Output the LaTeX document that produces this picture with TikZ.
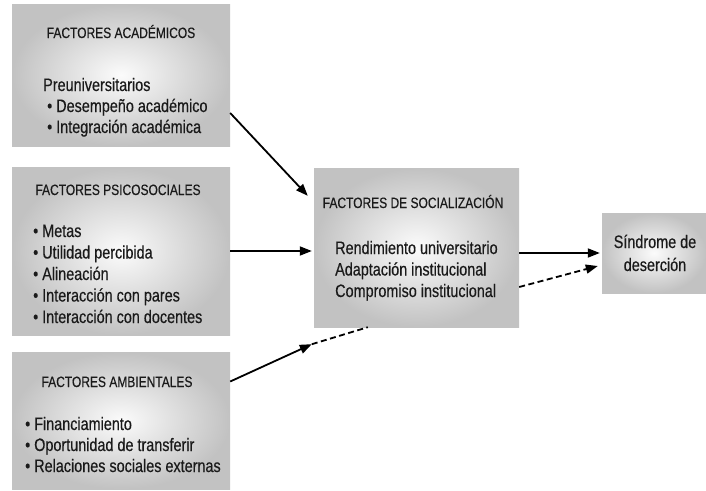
\documentclass[tikz,border=0pt]{standalone}
\usepackage{fontspec}
\setmainfont{Liberation Sans}[FakeStretch=0.8, FakeBold=0.4]
\usetikzlibrary{arrows.meta,positioning}
\definecolor{boxtext}{HTML}{1A1A1A}

\tikzset{
  factorbox/.style={inner sep=0pt, inner color=gray!3, outer color=gray!48},
  boxtitle/.style={font={\fontsize{15}{17}\selectfont}, text=boxtext, inner sep=0pt, anchor=base},
  boxitem/.style={font={\fontsize{18}{21}\selectfont}, text=boxtext, inner sep=0pt, anchor=base west},
  arr/.style={-{Triangle[length=12pt,width=9pt]}, line width=1.8pt},
  dasharr/.style={arr, dash pattern=on 6pt off 3.5pt},
}

\begin{document}
\begin{tikzpicture}[x=1pt, y=-1pt]
  \useasboundingbox (0,0) rectangle (706,490);
  % cajas
  \node[factorbox, minimum width=218pt, minimum height=142pt] (acad) at (121,75) {};
  \node[factorbox, minimum width=218pt, minimum height=168pt] (psico) at (121,251) {};
  \node[factorbox, minimum width=218pt, minimum height=137pt] (amb) at (121,420.5) {};
  \node[factorbox, minimum width=205pt, minimum height=159pt] (soc) at (416.5,247.5) {};
  \node[factorbox, minimum width=104pt, minimum height=80pt] (sind) at (654,253) {};

  % factores academicos
  \node[boxtitle] (acadtitle) at (121,38) {FACTORES ACADÉMICOS};
  \node[boxitem] (acadpre) at (43,91) {Preuniversitarios};
  \foreach \t [count=\i] in {Desempeño académico, Integración académica}
    \node[boxitem] (acad\i) at (47,91+21*\i) {\textbullet\ \t};

  % factores psicosociales
  \node[boxtitle] (psicotitle) at (118,195) {FACTORES PSICOSOCIALES};
  \foreach \t [count=\i] in {Metas, Utilidad percibida, Alineación, Interacción con pares, Interacción con docentes}
    \node[boxitem] (psico\i) at (33,237+21.5*\i-21.5) {\textbullet\ \t};

  % factores ambientales
  \node[boxtitle] (ambtitle) at (117,387) {FACTORES AMBIENTALES};
  \foreach \t [count=\i] in {Financiamiento, Oportunidad de transferir, Relaciones sociales externas}
    \node[boxitem] (amb\i) at (25,430+21*\i-21) {\textbullet\ \t};

  % factores de socializacion
  \node[boxtitle] (soctitle) at (413,208) {FACTORES DE SOCIALIZACIÓN};
  \foreach \t [count=\i] in {Rendimiento universitario, Adaptación institucional, Compromiso institucional}
    \node[boxitem] (soc\i) at (335,254+21.5*\i-21.5) {\t};

  % sindrome
  \node[boxitem, anchor=base] (sind1) at (655,248) {Síndrome de};
  \node[boxitem, anchor=base] (sind2) at (655,271) {deserción};

  % flechas
  \coordinate (ambtip) at ([xshift=-2pt,yshift=-17pt]soc.south west);
  \draw[arr] ([yshift=-38pt]acad.east) -- ([xshift=-6pt,yshift=-28pt]soc.north west);
  \draw[arr, shorten >=2pt] (psico.east) -- (psico.east -| soc.west);
  \draw[arr] ([yshift=39pt]amb.east) -- (ambtip);
  \draw[dash pattern=on 6pt off 3.5pt, line width=1.8pt] (ambtip) -- ([xshift=54pt]soc.south west);
  \draw[arr, shorten >=2pt] (sind.west -| soc.east) -- (sind.west);
  \draw[dasharr] ([yshift=-39.5pt]soc.east) -- ([xshift=-4pt,yshift=-13pt]sind.west);
\end{tikzpicture}
\end{document}
